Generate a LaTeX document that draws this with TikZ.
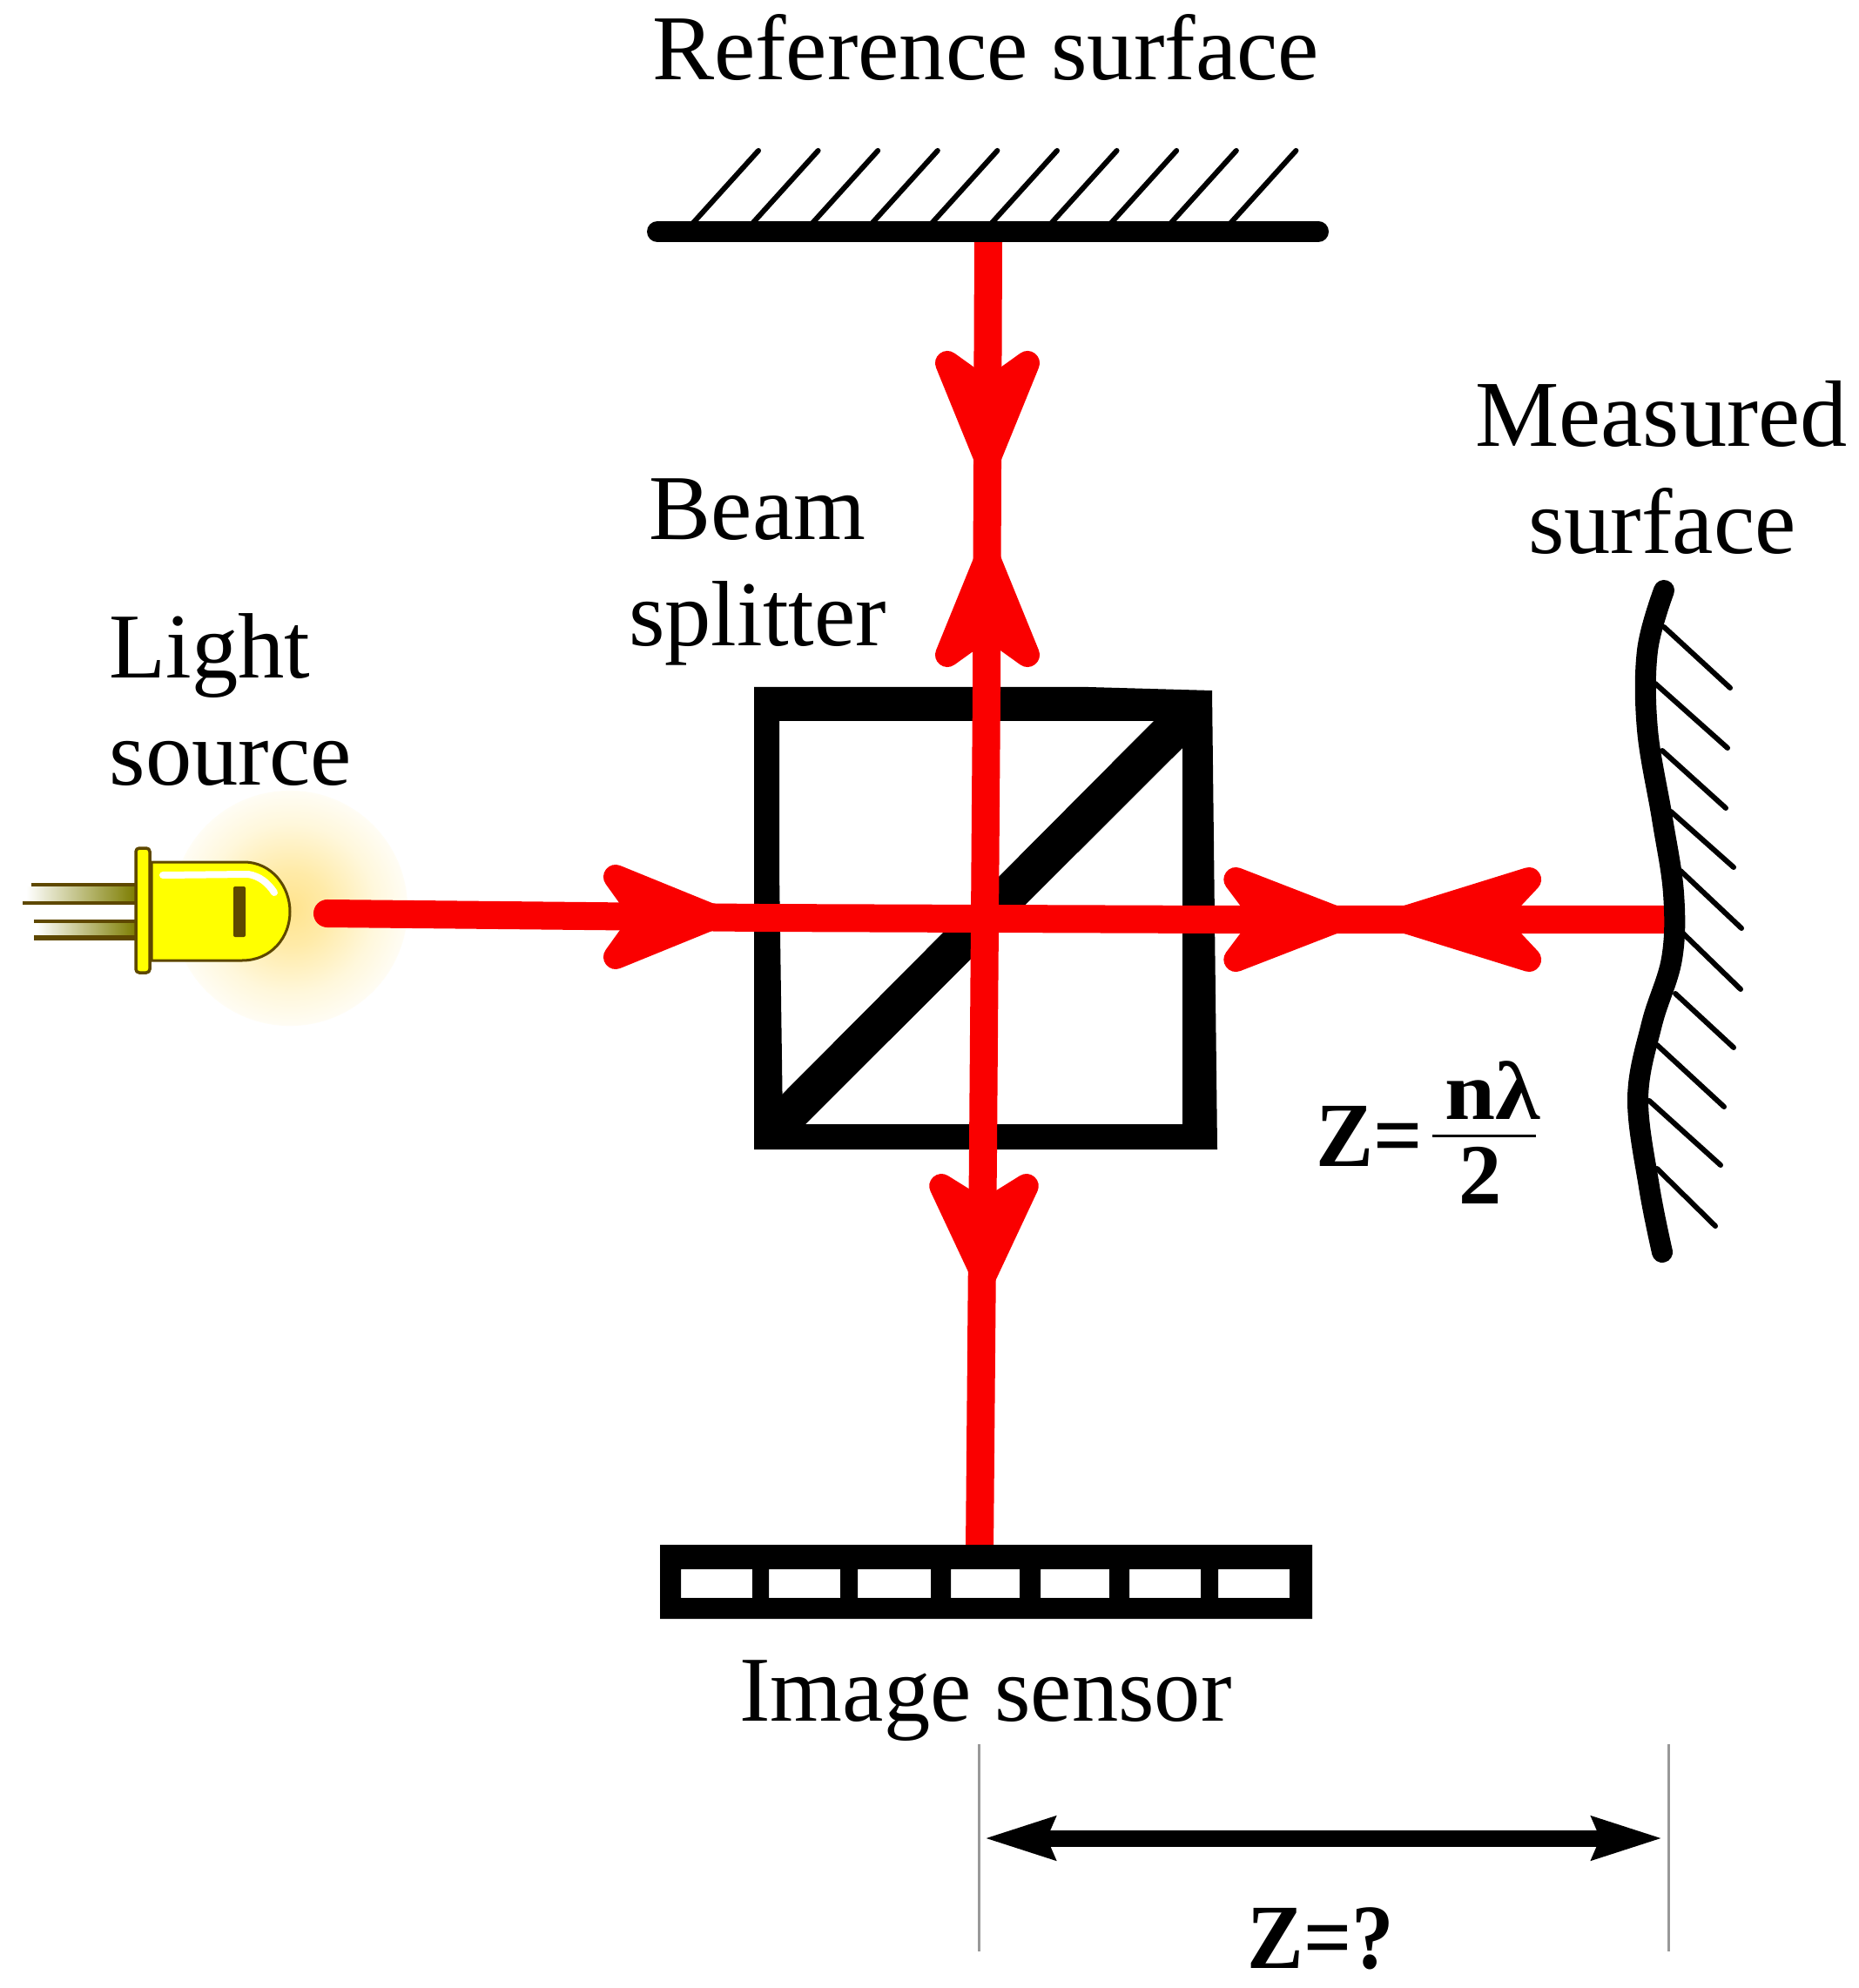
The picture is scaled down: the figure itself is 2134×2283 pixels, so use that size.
\documentclass[tikz,border=0pt]{standalone}
\usepackage{fontspec}
\setmainfont{Liberation Serif}
\usetikzlibrary{arrows.meta}
\definecolor{beamred}{RGB}{250,0,0}
\definecolor{ledbrown}{RGB}{94,72,0}
\definecolor{ledolive}{RGB}{125,125,0}
\definecolor{ledyellow}{RGB}{255,255,0}
\pgfdeclareradialshading{ledglow}{\pgfpoint{0bp}{0bp}}{rgb(0bp)=(1,0.89,0.55);rgb(8bp)=(1,0.92,0.66);rgb(18bp)=(1,0.97,0.86);rgb(28bp)=(1,1,1);rgb(100bp)=(1,1,1)}
\tikzset{
  label text/.style={inner sep=0pt,anchor=base,font=\fontsize{30.3}{36}\selectfont},
  bold text/.style={inner sep=0pt,anchor=base,font=\fontsize{30}{36}\selectfont\bfseries},
  beam/.style={draw=beamred,line width=0.32cm,line join=round},
  hatch/.style={draw=black,line width=0.06cm,line cap=round},
  mirror/.style={draw=black,line width=0.24cm,line cap=round,line join=round},
  guide/.style={draw=black!40,line width=0.03cm},
  ledline/.style={draw=ledbrown,line width=0.03cm},
  beamhead/.pic={
    \filldraw[beamred,line width=0.28cm,line join=round]
      (0,0) -- (-113,-46) -- (-80,0) -- (-113,46) -- cycle;
  }
}
\begin{document}
\begin{tikzpicture}[x=0.01cm,y=-0.01cm]
\useasboundingbox (0,0) rectangle (2134,2283);
\fill[white] (0,0) rectangle (2134,2283);

% named points of the beams and instruments
\coordinate (refL) at (755,266);
\coordinate (refR) at (1514,266);
\coordinate (beamTop) at (1135,270);
\coordinate (beamBoxTop) at (1133,790);
\coordinate (beamBoxBot) at (1129,1320);
\coordinate (beamBot) at (1125,1780);
\coordinate (srcEnd) at (376,1049);
\coordinate (boxL) at (870,1054);
\coordinate (boxR) at (1400,1056);
\coordinate (surfHit) at (1918,1056);
\coordinate (dimL) at (1130,2111);
\coordinate (dimR) at (1910,2111);
\coordinate (extLt) at (1124,2003);
\coordinate (extLb) at (1124,2241);
\coordinate (extRt) at (1916,2003);
\coordinate (extRb) at (1916,2241);

% LED glow
\shade[shading=ledglow] (333,1043) circle [radius=1.35cm];

% LED leads
\shade[left color=white,right color=ledolive] (30,1018) rectangle (156,1036);
\shade[left color=white,right color=ledolive] (42,1059) rectangle (156,1074);
\fill[ledbrown] (36,1014) rectangle (156,1018);
\fill[ledbrown] (26,1035) rectangle (156,1039);
\fill[ledbrown] (39,1056) rectangle (156,1060);
\fill[ledbrown] (39,1074) rectangle (156,1080);
% LED lens
\filldraw[fill=ledyellow,ledline] (174,990) -- (280,990)
  .. controls (312,990) and (333,1018) .. (333,1047)
  .. controls (333,1076) and (312,1103) .. (278,1103) -- (174,1103) -- cycle;
\draw[white,line width=0.08cm,line cap=round] (187,1005) -- (285,1004)
  .. controls (298,1006) and (308,1014) .. (315,1025);
\fill[ledbrown,rounded corners=0.02cm] (268,1018) rectangle (282,1076);
% LED flange
\filldraw[fill=ledyellow,draw=ledbrown,line width=0.035cm,rounded corners=0.04cm] (156,974) rectangle (172,1117);

% beam splitter cube
\fill[black,even odd rule] (866,789) -- (1250,789) -- (1392,793) -- (1398,1320) -- (866,1320) -- cycle
  (895,828) -- (895,1000) -- (899,1291) -- (1358,1291) -- (1358,828) -- cycle;
\fill[black] (898,1257) -- (1325,828) -- (1358,828) -- (1358,859) -- (925,1291) -- (898,1291) -- cycle;

% red beams
\draw[beam,line cap=round] (srcEnd) -- (boxL) -- (boxR) -- (surfHit);
\draw[beam] (beamTop) -- (beamBoxTop) -- (beamBoxBot) -- (beamBot);
\pic[rotate=-90] at (1134,530) {beamhead};
\pic[rotate=90] at (1134,639) {beamhead};
\pic[rotate=-90,xscale=0.92,yscale=1.06] at (1130,1466) {beamhead};
\pic at (820,1053) {beamhead};
\pic[xscale=1.05] at (1538,1056) {beamhead};
\pic[rotate=180,xscale=1.31] at (1608,1056) {beamhead};

% reference surface
\foreach \i in {0,...,9}{
  \draw[hatch] (796+68.6*\i,256) -- (871+68.6*\i,173);
}
\draw[mirror] (refL) -- (refR);

% measured surface
\draw[hatch] (1911,720) -- (1987,790);
\draw[hatch] (1901,785) -- (1984,859);
\draw[hatch] (1909,862) -- (1982,928);
\draw[hatch] (1919,932) -- (1991,996);
\draw[hatch] (1930,1000) -- (2000,1066);
\draw[hatch] (1932,1071) -- (1999,1136);
\draw[hatch] (1924,1141) -- (1991,1203);
\draw[hatch] (1903,1200) -- (1980,1271);
\draw[hatch] (1894,1264) -- (1976,1338);
\draw[hatch] (1903,1342) -- (1970,1408);
\draw[black,line width=0.24cm,line cap=round,line join=round] plot[smooth,tension=0.6] coordinates
  {(1911,678) (1892,747) (1892,838) (1909,940) (1922,1026) (1920,1101) (1897,1176) (1881,1261) (1894,1363) (1909,1438)};

% image sensor
\fill[black,even odd rule] (758,1774) rectangle (1507,1859)
  (782,1802) rectangle (864,1835)
  (883,1802) rectangle (965,1835)
  (985,1802) rectangle (1069,1835)
  (1092,1802) rectangle (1171,1835)
  (1195,1802) rectangle (1274,1835)
  (1297,1802) rectangle (1379,1835)
  (1399,1802) rectangle (1481,1835);

% dimension
\draw[guide] (extLt) -- (extLb);
\draw[guide] (extRt) -- (extRb);
\draw[line width=0.19cm,{Stealth[length=0.8cm,width=0.47cm,inset=0.08cm]}-{Stealth[length=0.8cm,width=0.47cm,inset=0.08cm]}] (dimL) -- (dimR);

% text
\node[label text] (tRef) at (1132,92) {Reference surface};
\node[label text] (tBeam) at (870,620) {Beam};
\node[label text] (tSplit) at (870,742) {splitter};
\node[label text] (tLight) at (241,779) {Light};
\node[label text] (tSource) at (265,901) {source};
\node[label text,font=\fontsize{30.8}{36}\selectfont] (tMeas) at (1908,513) {Measured};
\node[label text] (tSurf) at (1909,636) {surface};
\node[label text] (tImg) at (1132,1976) {Image sensor};
\node[bold text] (tZeq) at (1573,1339) {\scalebox{0.94}[1]{Z=}};
\node[bold text,font=\fontsize{27}{32}\selectfont\bfseries] (tNum) at (1714,1285) {\scalebox{1.1}[1]{nλ}};
\node[bold text,font=\fontsize{28}{34}\selectfont\bfseries] (tDen) at (1700,1382) {2};
\coordinate (fracL) at (1645,1304);
\coordinate (fracR) at (1764,1304);
\draw[black,line width=0.03cm] (fracL) -- (fracR);
\node[bold text] (tZq) at (1517,2260) {\scalebox{0.92}[1]{Z=?}};
\end{tikzpicture}
\end{document}
